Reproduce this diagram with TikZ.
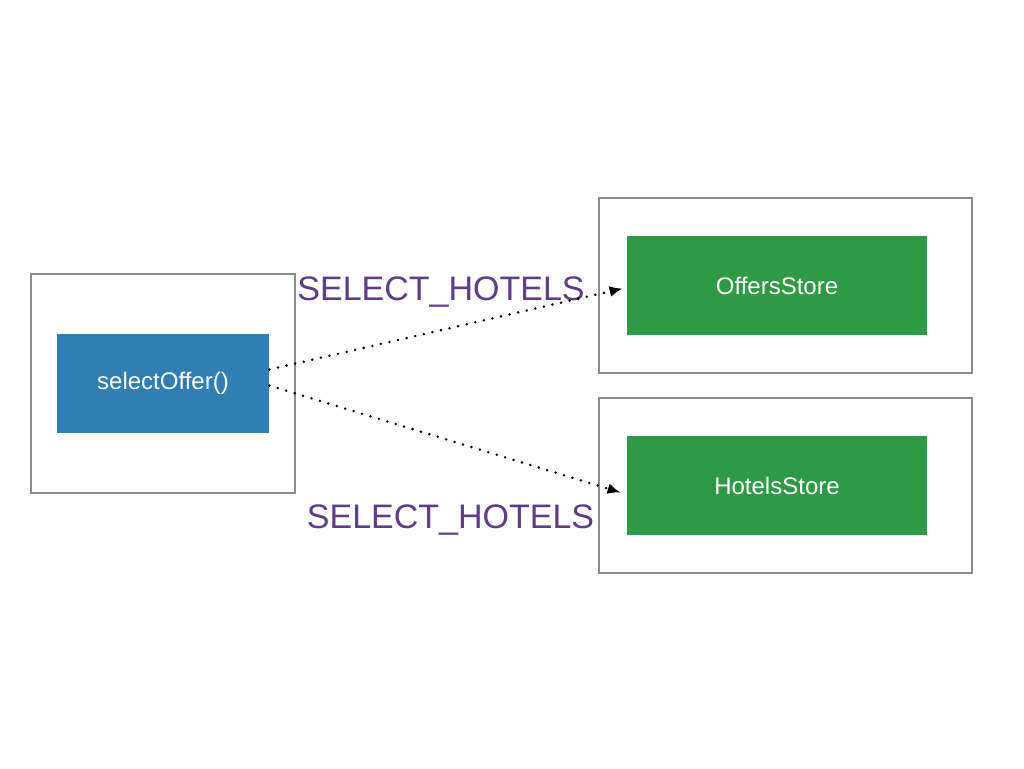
\documentclass[tikz,border=0pt]{standalone}
\usepackage{fontspec}
\setmainfont{Liberation Sans}
\usepackage{tikz}
\usetikzlibrary{arrows.meta}
\definecolor{callblue}{HTML}{2F7EB4}
\definecolor{storegreen}{HTML}{2E9A46}
\definecolor{actpurple}{HTML}{5E3C8A}
\definecolor{framegray}{HTML}{8C8C8E}
\tikzstyle{frame}=[rectangle,draw=framegray,line width=1pt,minimum width=186.5pt,minimum height=87.5pt]
\tikzstyle{store}=[rectangle,fill=storegreen,text=white,minimum width=150pt,minimum height=49.5pt,font=\fontsize{12}{14}\selectfont]

\begin{document}
\begin{tikzpicture}[x=0.5pt,y=-0.5pt]
    \tikzstyle{caller}=[rectangle,fill=callblue,text=white,minimum width=106pt,minimum height=49.5pt,font=\fontsize{12}{14}\selectfont]
    \tikzstyle{action}=[text=actpurple,inner sep=0pt,anchor=base,font=\fontsize{17}{20}\selectfont]
    \tikzstyle{dispatch}=[line width=1.4pt,dash pattern=on 0pt off 4.4pt,line cap=round,-{Latex[length=6.5pt,width=5.5pt]}]

    \useasboundingbox[fill=white] (0,0) rectangle (1024,768);

    \node[frame,minimum width=132pt,minimum height=109.5pt] (view) at (163,383.5) {};
    \node[caller] (sel) at (163,383.5) {selectOffer()};

    \node[frame] (oframe) at (785.5,285.5) {};
    \node[store] (offers) at (777,285.5) {OffersStore};
    \node[frame] (hframe) at (785.5,485.5) {};
    \node[store] (hotels) at (777,485.5) {HotelsStore};

    \node[action] (a1) at (441,300) {SELECT\_HOTELS};
    \node[action] (a2) at (450.5,528) {SELECT\_HOTELS};

    \draw[dispatch] ([yshift=7pt]sel.east) -- ([xshift=-2pt,yshift=-1.5pt]offers.west);
    \draw[dispatch] ([yshift=-1pt]sel.east) -- ([xshift=-3pt,yshift=-3.5pt]hotels.west);
\end{tikzpicture}
\end{document}
